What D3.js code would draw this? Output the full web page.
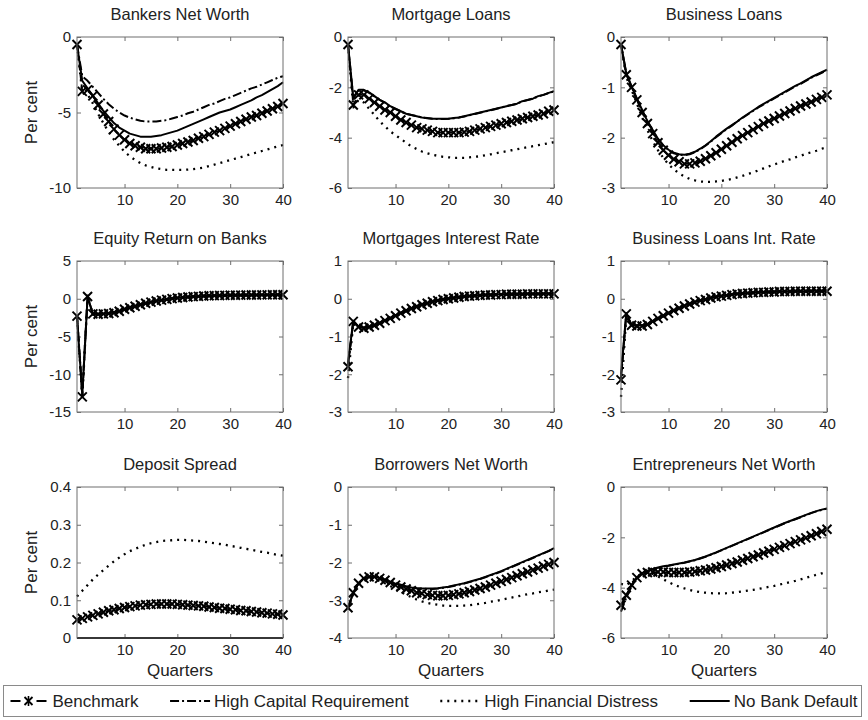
<!DOCTYPE html>
<html><head><meta charset="utf-8">
<script src="https://cdn.jsdelivr.net/npm/d3@7"></script>
<style>body{margin:0;background:#fff}svg{font-family:"Liberation Sans",Arial,sans-serif}</style>
</head><body><svg id="c" width="868" height="720"></svg>
<script>
const quarters = [1,2,3,4,5,6,7,8,9,10,11,12,13,14,15,16,17,18,19,20,21,22,23,24,25,26,27,28,29,30,31,32,33,34,35,36,37,38,39,40];
const seriesNames = ["Benchmark","High Capital Requirement","High Financial Distress","No Bank Default"];
const panelTitles = ["Bankers Net Worth","Mortgage Loans","Business Loans","Equity  Return on Banks","Mortgages Interest Rate","Business Loans Int. Rate","Deposit Spread","Borrowers Net Worth","Entrepreneurs Net Worth"];
const yTicks = [[-10,-5,0],[-6,-4,-2,0],[-3,-2,-1,0],[-15,-10,-5,0,5],[-3,-2,-1,0,1],[-3,-2,-1,0,1],[0,0.1,0.2,0.3,0.4],[-4,-3,-2,-1,0],[-6,-4,-2,0]];
const xTicks = [10,20,30,40];

// Bankers Net Worth
const bnw_bench = [-0.5,-3.6,-3.5,-3.9,-4.5,-5.1,-5.6,-6.1,-6.5,-6.8,-7.05,-7.2,-7.3,-7.4,-7.4,-7.4,-7.35,-7.3,-7.25,-7.15,-7.05,-6.95,-6.85,-6.7,-6.6,-6.45,-6.3,-6.2,-6.05,-5.9,-5.75,-5.6,-5.45,-5.3,-5.2,-5.05,-4.9,-4.75,-4.6,-4.4];
const bnw_hcr = [-0.5,-2.6,-2.9,-3.3,-3.7,-4.1,-4.45,-4.75,-5.0,-5.2,-5.35,-5.45,-5.55,-5.6,-5.6,-5.6,-5.55,-5.5,-5.4,-5.3,-5.2,-5.05,-4.95,-4.8,-4.65,-4.5,-4.4,-4.25,-4.1,-4.0,-3.85,-3.7,-3.55,-3.4,-3.3,-3.15,-3.0,-2.85,-2.7,-2.6];
const bnw_hfd = [-0.5,-3.7,-3.8,-4.4,-5.1,-5.7,-6.3,-6.8,-7.2,-7.6,-7.9,-8.15,-8.35,-8.5,-8.6,-8.7,-8.75,-8.8,-8.8,-8.8,-8.8,-8.78,-8.75,-8.7,-8.65,-8.55,-8.45,-8.35,-8.25,-8.15,-8.05,-7.95,-7.85,-7.75,-7.65,-7.55,-7.45,-7.35,-7.25,-7.15];
const bnw_nbd = [-0.5,-2.9,-3.4,-3.9,-4.4,-4.9,-5.3,-5.7,-6.0,-6.2,-6.4,-6.5,-6.6,-6.6,-6.6,-6.55,-6.5,-6.4,-6.3,-6.2,-6.05,-5.9,-5.75,-5.6,-5.45,-5.3,-5.15,-5.0,-4.9,-4.8,-4.65,-4.5,-4.35,-4.2,-4.0,-3.85,-3.65,-3.45,-3.25,-3.0];
// Mortgage Loans
const ml_bench = [-0.3,-2.7,-2.3,-2.3,-2.45,-2.6,-2.75,-2.9,-3.0,-3.15,-3.3,-3.4,-3.5,-3.6,-3.65,-3.7,-3.75,-3.8,-3.8,-3.8,-3.8,-3.8,-3.78,-3.75,-3.7,-3.65,-3.6,-3.55,-3.5,-3.45,-3.4,-3.35,-3.3,-3.25,-3.2,-3.15,-3.1,-3.05,-2.95,-2.9];
const ml_hcr = [-0.3,-2.45,-2.12,-2.12,-2.22,-2.36,-2.5,-2.62,-2.76,-2.86,-2.96,-3.05,-3.1,-3.15,-3.2,-3.23,-3.25,-3.26,-3.26,-3.25,-3.23,-3.2,-3.16,-3.11,-3.06,-3.01,-2.96,-2.91,-2.86,-2.8,-2.75,-2.7,-2.65,-2.56,-2.5,-2.45,-2.36,-2.3,-2.23,-2.16];
const ml_hfd = [-0.3,-2.8,-2.5,-2.6,-2.85,-3.1,-3.35,-3.55,-3.75,-3.9,-4.05,-4.2,-4.35,-4.45,-4.55,-4.62,-4.68,-4.72,-4.76,-4.78,-4.8,-4.8,-4.8,-4.78,-4.76,-4.74,-4.7,-4.66,-4.62,-4.58,-4.54,-4.5,-4.46,-4.42,-4.38,-4.34,-4.3,-4.26,-4.22,-4.18];
const ml_nbd = [-0.3,-2.4,-2.1,-2.1,-2.2,-2.35,-2.5,-2.6,-2.75,-2.85,-2.95,-3.05,-3.1,-3.15,-3.2,-3.22,-3.25,-3.25,-3.25,-3.25,-3.22,-3.2,-3.15,-3.1,-3.05,-3.0,-2.95,-2.9,-2.85,-2.8,-2.75,-2.7,-2.65,-2.55,-2.5,-2.45,-2.35,-2.3,-2.22,-2.15];
// Business Loans
const bl_bench = [-0.15,-0.75,-1.0,-1.25,-1.5,-1.72,-1.92,-2.1,-2.25,-2.35,-2.43,-2.48,-2.52,-2.52,-2.5,-2.47,-2.42,-2.36,-2.3,-2.23,-2.16,-2.09,-2.02,-1.96,-1.9,-1.84,-1.78,-1.72,-1.67,-1.62,-1.57,-1.52,-1.47,-1.42,-1.37,-1.33,-1.29,-1.24,-1.2,-1.15];
const bl_hcr = [-0.15,-0.73,-0.99,-1.23,-1.46,-1.68,-1.86,-2.03,-2.16,-2.25,-2.31,-2.34,-2.35,-2.33,-2.29,-2.23,-2.16,-2.08,-1.99,-1.91,-1.83,-1.76,-1.68,-1.61,-1.54,-1.47,-1.4,-1.34,-1.28,-1.22,-1.16,-1.1,-1.04,-0.98,-0.93,-0.87,-0.81,-0.76,-0.71,-0.66];
const bl_hfd = [-0.15,-0.8,-1.05,-1.32,-1.6,-1.85,-2.07,-2.25,-2.4,-2.53,-2.63,-2.71,-2.77,-2.82,-2.85,-2.87,-2.88,-2.88,-2.87,-2.86,-2.84,-2.82,-2.79,-2.76,-2.72,-2.69,-2.65,-2.61,-2.57,-2.53,-2.5,-2.46,-2.43,-2.39,-2.36,-2.32,-2.29,-2.26,-2.22,-2.19];
const bl_nbd = [-0.15,-0.72,-0.98,-1.22,-1.45,-1.67,-1.85,-2.02,-2.15,-2.24,-2.3,-2.33,-2.34,-2.32,-2.28,-2.22,-2.15,-2.07,-1.98,-1.9,-1.82,-1.75,-1.68,-1.6,-1.53,-1.46,-1.39,-1.33,-1.27,-1.21,-1.15,-1.09,-1.03,-0.97,-0.92,-0.86,-0.8,-0.75,-0.7,-0.65];
// Equity Return on Banks
const eq_bench = [-2.3,-13.0,0.3,-2.0,-2.05,-2.0,-1.95,-1.85,-1.65,-1.4,-1.2,-1.0,-0.8,-0.6,-0.45,-0.3,-0.18,-0.08,0.02,0.1,0.17,0.23,0.28,0.32,0.36,0.39,0.41,0.43,0.45,0.46,0.47,0.48,0.49,0.5,0.5,0.51,0.51,0.52,0.52,0.52];
const eq_hcr = [-2.2,-12.6,0.2,-2.0,-2.0,-1.96,-1.9,-1.8,-1.6,-1.38,-1.18,-0.98,-0.78,-0.6,-0.44,-0.3,-0.18,-0.08,0.02,0.1,0.17,0.22,0.27,0.31,0.35,0.38,0.4,0.42,0.44,0.45,0.46,0.47,0.48,0.49,0.49,0.5,0.5,0.51,0.51,0.51];
const eq_hfd = [-2.5,-13.2,0.4,-2.1,-2.1,-2.05,-2.0,-1.9,-1.7,-1.45,-1.25,-1.05,-0.85,-0.65,-0.5,-0.35,-0.22,-0.12,-0.02,0.07,0.14,0.2,0.25,0.3,0.34,0.37,0.4,0.42,0.44,0.45,0.46,0.47,0.48,0.49,0.5,0.5,0.51,0.51,0.52,0.52];
const eq_nbd = [-2.25,-12.8,0.25,-2.0,-2.02,-1.98,-1.92,-1.82,-1.62,-1.39,-1.19,-0.99,-0.79,-0.6,-0.45,-0.3,-0.18,-0.08,0.02,0.1,0.17,0.22,0.27,0.31,0.35,0.38,0.4,0.42,0.44,0.45,0.46,0.47,0.48,0.49,0.49,0.5,0.5,0.51,0.51,0.51];
// Mortgages Interest Rate
const mir_bench = [-1.8,-0.6,-0.75,-0.78,-0.75,-0.7,-0.65,-0.58,-0.52,-0.45,-0.38,-0.32,-0.26,-0.21,-0.16,-0.12,-0.08,-0.05,-0.02,0.0,0.02,0.04,0.06,0.07,0.08,0.09,0.1,0.1,0.11,0.11,0.12,0.12,0.12,0.12,0.13,0.13,0.13,0.13,0.13,0.13];
const mir_hcr = [-1.75,-0.6,-0.74,-0.77,-0.74,-0.7,-0.64,-0.58,-0.51,-0.44,-0.38,-0.31,-0.26,-0.2,-0.16,-0.12,-0.08,-0.05,-0.02,0.0,0.02,0.04,0.06,0.07,0.08,0.09,0.1,0.1,0.11,0.11,0.12,0.12,0.12,0.12,0.13,0.13,0.13,0.13,0.13,0.13];
const mir_hfd = [-2.1,-0.65,-0.78,-0.8,-0.77,-0.72,-0.66,-0.6,-0.53,-0.46,-0.39,-0.33,-0.27,-0.22,-0.17,-0.13,-0.09,-0.06,-0.03,-0.01,0.01,0.03,0.05,0.06,0.07,0.08,0.09,0.1,0.1,0.11,0.11,0.12,0.12,0.12,0.12,0.13,0.13,0.13,0.13,0.13];
const mir_nbd = [-1.7,-0.58,-0.74,-0.77,-0.74,-0.69,-0.64,-0.57,-0.51,-0.44,-0.37,-0.31,-0.25,-0.2,-0.15,-0.11,-0.07,-0.04,-0.01,0.01,0.03,0.05,0.06,0.07,0.08,0.09,0.1,0.11,0.11,0.12,0.12,0.12,0.12,0.13,0.13,0.13,0.13,0.13,0.14,0.14];
// Business Loans Int. Rate
const bir_bench = [-2.15,-0.4,-0.7,-0.72,-0.72,-0.68,-0.6,-0.52,-0.45,-0.38,-0.31,-0.25,-0.19,-0.14,-0.09,-0.05,-0.02,0.02,0.05,0.07,0.09,0.11,0.13,0.14,0.15,0.16,0.17,0.17,0.18,0.18,0.19,0.19,0.19,0.2,0.2,0.2,0.2,0.2,0.2,0.2];
const bir_hcr = [-2.1,-0.42,-0.69,-0.71,-0.71,-0.67,-0.6,-0.52,-0.45,-0.38,-0.31,-0.25,-0.19,-0.14,-0.09,-0.05,-0.02,0.02,0.05,0.07,0.09,0.11,0.13,0.14,0.15,0.16,0.17,0.17,0.18,0.18,0.19,0.19,0.19,0.2,0.2,0.2,0.2,0.2,0.2,0.2];
const bir_hfd = [-2.6,-0.45,-0.73,-0.75,-0.74,-0.7,-0.62,-0.54,-0.47,-0.4,-0.33,-0.27,-0.21,-0.16,-0.11,-0.07,-0.03,0.0,0.03,0.06,0.08,0.1,0.12,0.13,0.14,0.15,0.16,0.17,0.17,0.18,0.18,0.19,0.19,0.19,0.2,0.2,0.2,0.2,0.2,0.2];
const bir_nbd = [-2.0,-0.38,-0.69,-0.71,-0.71,-0.67,-0.59,-0.51,-0.44,-0.37,-0.3,-0.24,-0.18,-0.13,-0.08,-0.04,-0.01,0.03,0.06,0.08,0.1,0.12,0.13,0.14,0.15,0.16,0.17,0.18,0.18,0.19,0.19,0.19,0.2,0.2,0.2,0.2,0.21,0.21,0.21,0.21];
// Deposit Spread
const ds_bench = [0.048,0.052,0.056,0.06,0.064,0.068,0.072,0.075,0.078,0.081,0.083,0.085,0.087,0.088,0.089,0.09,0.09,0.09,0.09,0.089,0.088,0.087,0.086,0.085,0.084,0.082,0.081,0.079,0.078,0.076,0.075,0.073,0.072,0.07,0.069,0.067,0.066,0.064,0.063,0.061];
const ds_hcr = [0,0,0,0,0,0,0,0,0,0,0,0,0,0,0,0,0,0,0,0,0,0,0,0,0,0,0,0,0,0,0,0,0,0,0,0,0,0,0,0];
const ds_hfd = [0.11,0.125,0.14,0.155,0.168,0.18,0.192,0.203,0.213,0.222,0.23,0.236,0.242,0.247,0.251,0.254,0.257,0.258,0.259,0.26,0.26,0.259,0.258,0.257,0.255,0.253,0.251,0.249,0.247,0.244,0.242,0.239,0.236,0.234,0.231,0.228,0.226,0.223,0.22,0.218];
const ds_nbd = [0,0,0,0,0,0,0,0,0,0,0,0,0,0,0,0,0,0,0,0,0,0,0,0,0,0,0,0,0,0,0,0,0,0,0,0,0,0,0,0];
// Borrowers Net Worth
const bow_bench = [-3.2,-2.8,-2.55,-2.42,-2.38,-2.38,-2.42,-2.47,-2.53,-2.6,-2.65,-2.7,-2.75,-2.8,-2.82,-2.85,-2.87,-2.88,-2.88,-2.87,-2.85,-2.83,-2.8,-2.77,-2.73,-2.69,-2.65,-2.6,-2.55,-2.5,-2.45,-2.4,-2.35,-2.3,-2.25,-2.2,-2.15,-2.1,-2.05,-2.0];
const bow_hcr = [-3.2,-2.8,-2.55,-2.42,-2.38,-2.38,-2.41,-2.46,-2.51,-2.55,-2.59,-2.63,-2.66,-2.68,-2.69,-2.7,-2.7,-2.69,-2.67,-2.65,-2.62,-2.59,-2.56,-2.52,-2.48,-2.44,-2.39,-2.34,-2.29,-2.24,-2.18,-2.12,-2.06,-2.0,-1.94,-1.88,-1.82,-1.76,-1.7,-1.63];
const bow_hfd = [-3.25,-2.82,-2.57,-2.45,-2.42,-2.43,-2.48,-2.55,-2.62,-2.7,-2.78,-2.85,-2.92,-2.98,-3.03,-3.07,-3.1,-3.12,-3.14,-3.15,-3.15,-3.15,-3.14,-3.13,-3.11,-3.09,-3.07,-3.04,-3.02,-2.99,-2.96,-2.93,-2.9,-2.87,-2.84,-2.82,-2.79,-2.77,-2.74,-2.72];
const bow_nbd = [-3.2,-2.8,-2.55,-2.42,-2.38,-2.38,-2.41,-2.46,-2.51,-2.56,-2.6,-2.63,-2.66,-2.68,-2.69,-2.69,-2.69,-2.68,-2.66,-2.64,-2.61,-2.58,-2.55,-2.51,-2.47,-2.43,-2.38,-2.33,-2.28,-2.23,-2.17,-2.11,-2.05,-1.99,-1.93,-1.87,-1.81,-1.75,-1.69,-1.62];
// Entrepreneurs Net Worth
const enw_bench = [-4.7,-4.3,-3.9,-3.6,-3.45,-3.4,-3.38,-3.38,-3.38,-3.4,-3.4,-3.4,-3.4,-3.38,-3.36,-3.33,-3.3,-3.26,-3.21,-3.16,-3.1,-3.04,-2.98,-2.91,-2.84,-2.77,-2.7,-2.62,-2.55,-2.48,-2.4,-2.33,-2.25,-2.17,-2.1,-2.02,-1.94,-1.86,-1.77,-1.68];
const enw_hcr = [-4.95,-4.4,-3.95,-3.62,-3.44,-3.34,-3.27,-3.21,-3.16,-3.13,-3.09,-3.05,-3.01,-2.96,-2.91,-2.84,-2.77,-2.69,-2.61,-2.52,-2.43,-2.34,-2.25,-2.16,-2.07,-1.98,-1.89,-1.8,-1.71,-1.62,-1.53,-1.44,-1.36,-1.28,-1.2,-1.12,-1.04,-0.97,-0.91,-0.86];
const enw_hfd = [-3.85,-3.9,-3.75,-3.55,-3.45,-3.4,-3.45,-3.55,-3.67,-3.78,-3.88,-3.96,-4.03,-4.09,-4.14,-4.18,-4.2,-4.22,-4.23,-4.23,-4.22,-4.2,-4.18,-4.15,-4.12,-4.09,-4.05,-4.01,-3.97,-3.93,-3.88,-3.83,-3.78,-3.73,-3.67,-3.61,-3.55,-3.49,-3.43,-3.37];
const enw_nbd = [-4.7,-4.3,-3.9,-3.6,-3.42,-3.33,-3.27,-3.2,-3.15,-3.12,-3.08,-3.04,-3.0,-2.95,-2.9,-2.83,-2.76,-2.68,-2.6,-2.51,-2.42,-2.33,-2.24,-2.15,-2.06,-1.97,-1.88,-1.79,-1.7,-1.61,-1.52,-1.43,-1.35,-1.27,-1.19,-1.11,-1.03,-0.96,-0.9,-0.85];

const panelSeries = [
  [bnw_bench,bnw_hcr,bnw_hfd,bnw_nbd],
  [ml_bench,ml_hcr,ml_hfd,ml_nbd],
  [bl_bench,bl_hcr,bl_hfd,bl_nbd],
  [eq_bench,eq_hcr,eq_hfd,eq_nbd],
  [mir_bench,mir_hcr,mir_hfd,mir_nbd],
  [bir_bench,bir_hcr,bir_hfd,bir_nbd],
  [ds_bench,ds_hcr,ds_hfd,ds_nbd],
  [bow_bench,bow_hcr,bow_hfd,bow_nbd],
  [enw_bench,enw_hcr,enw_hfd,enw_nbd]
];

// layout & styles
const colX = [77, 348, 621], rowY = [37, 261, 487], PW = 206, PH = 151;
const styles = [
  {dash:"6,4", w:1.8, marker:true},
  {dash:"9,3,2,3", w:2},
  {dash:"2,5", w:2.3},
  {dash:null, w:2}
];
const frameCol = "#6e6e6e", textCol = "#222";

const svg = d3.select("#c");

function xMarker(g, x, y, s, w){
  g.append("path").attr("d",`M${x-s},${y-s}L${x+s},${y+s}M${x-s},${y+s}L${x+s},${y-s}`)
   .attr("stroke","#000").attr("stroke-width",w).attr("fill","none");
}

panelTitles.forEach((title, i) => {
  const r = Math.floor(i/3), c = i%3;
  const g = svg.append("g").attr("transform",`translate(${colX[c]},${rowY[r]})`);
  const ticks = yTicks[i];
  const x = d3.scaleLinear().domain([1,40]).range([0,PW]);
  const y = d3.scaleLinear().domain([ticks[0], ticks[ticks.length-1]]).range([PH,0]);

  g.append("rect").attr("width",PW).attr("height",PH).attr("fill","#fff");
  const cid = "clip"+i;
  g.append("clipPath").attr("id",cid).append("rect").attr("x",-3).attr("y",-3).attr("width",PW+6).attr("height",PH+6);

  const ax = [
    d3.axisBottom(x).tickValues(xTicks).tickSize(-4).tickPadding(6),
    d3.axisTop(x).tickValues(xTicks).tickSize(-4).tickFormat(""),
    d3.axisLeft(y).tickValues(ticks).tickSize(-4).tickPadding(6).tickFormat(d=>String(d)),
    d3.axisRight(y).tickValues(ticks).tickSize(-4).tickFormat("")
  ];
  const tr = [`translate(0,${PH})`, null, null, `translate(${PW},0)`];
  ax.forEach((a,k)=>{
    const ag = g.append("g").call(a);
    if (tr[k]) ag.attr("transform", tr[k]);
    ag.select(".domain").remove();
    ag.selectAll("line").attr("stroke",frameCol);
    ag.selectAll("text").attr("fill",textCol).style("font-size","15px").style("font-family","'Liberation Sans',Arial,sans-serif");
  });

  const line = d3.line().x((d,j)=>x(quarters[j])).y(d=>y(d));
  const ser = panelSeries[i];
  const order = [2,1,3,0];
  const lg = g.append("g").attr("clip-path",`url(#${cid})`);
  order.forEach(k=>{
    const st = styles[k];
    const p = lg.append("path").attr("d", line(ser[k])).attr("fill","none")
      .attr("stroke","#000").attr("stroke-width",st.w).attr("stroke-linejoin","round");
    if (st.dash) p.attr("stroke-dasharray", st.dash);
  });
  const mg = g.append("g");
  ser[0].forEach((v,j)=> xMarker(mg, x(quarters[j]), y(v), 4.5, 2));

  g.append("rect").attr("width",PW).attr("height",PH).attr("fill","none").attr("stroke",frameCol).attr("stroke-width",1);

  g.append("text").attr("x",PW/2).attr("y",-17).attr("text-anchor","middle")
    .attr("fill",textCol).style("font-size","16.5px").text(title);

  if (c===0) {
    svg.append("text").attr("transform",`translate(37,${rowY[r]+PH/2}) rotate(-90)`)
      .attr("text-anchor","middle").attr("fill",textCol).style("font-size","17px").text("Per cent");
  }
  if (r===2) {
    svg.append("text").attr("x",colX[c]+PW/2).attr("y",676).attr("text-anchor","middle")
      .attr("fill",textCol).style("font-size","17px").text("Quarters");
  }
});

// Legend
const lgX = 3.5, lgY = 685.5, lgW = 858, lgH = 31;
const leg = svg.append("g");
leg.append("rect").attr("x",lgX).attr("y",lgY).attr("width",lgW).attr("height",lgH)
  .attr("fill","#fff").attr("stroke","#8a8a8a").attr("stroke-width",1);
const cy = lgY + lgH/2;
const sampleW = 40, gapST = 4;
const texts = seriesNames.map(n => leg.append("text").attr("y",cy+6).attr("fill",textCol).style("font-size","17px").text(n));
const tw = texts.map(t => t.node().getComputedTextLength());
const startPad = 5, endPad = 4;
const used = tw.reduce((a,b)=>a+b,0) + 4*(sampleW+gapST);
const gap = (lgW - startPad - endPad - used)/3;
let cx = lgX + startPad;
seriesNames.forEach((n,k)=>{
  const st = styles[k];
  if (k===0) {
    leg.append("line").attr("x1",cx+2).attr("x2",cx+12).attr("y1",cy).attr("y2",cy).attr("stroke","#000").attr("stroke-width",2);
    leg.append("line").attr("x1",cx+sampleW-12).attr("x2",cx+sampleW-2).attr("y1",cy).attr("y2",cy).attr("stroke","#000").attr("stroke-width",2);
    const mx = cx+sampleW/2;
    xMarker(leg, mx, cy, 4, 1.8);
    leg.append("path").attr("d",`M${mx},${cy-5}L${mx},${cy+5}`).attr("stroke","#000").attr("stroke-width",1.6);
  } else {
    const ln = leg.append("line").attr("x1",cx).attr("x2",cx+sampleW).attr("y1",cy).attr("y2",cy)
      .attr("stroke","#000").attr("stroke-width",st.w);
    if (st.dash) ln.attr("stroke-dasharray", st.dash);
  }
  texts[k].attr("x", cx+sampleW+gapST);
  cx += sampleW + gapST + tw[k] + gap;
});
</script></body></html>
